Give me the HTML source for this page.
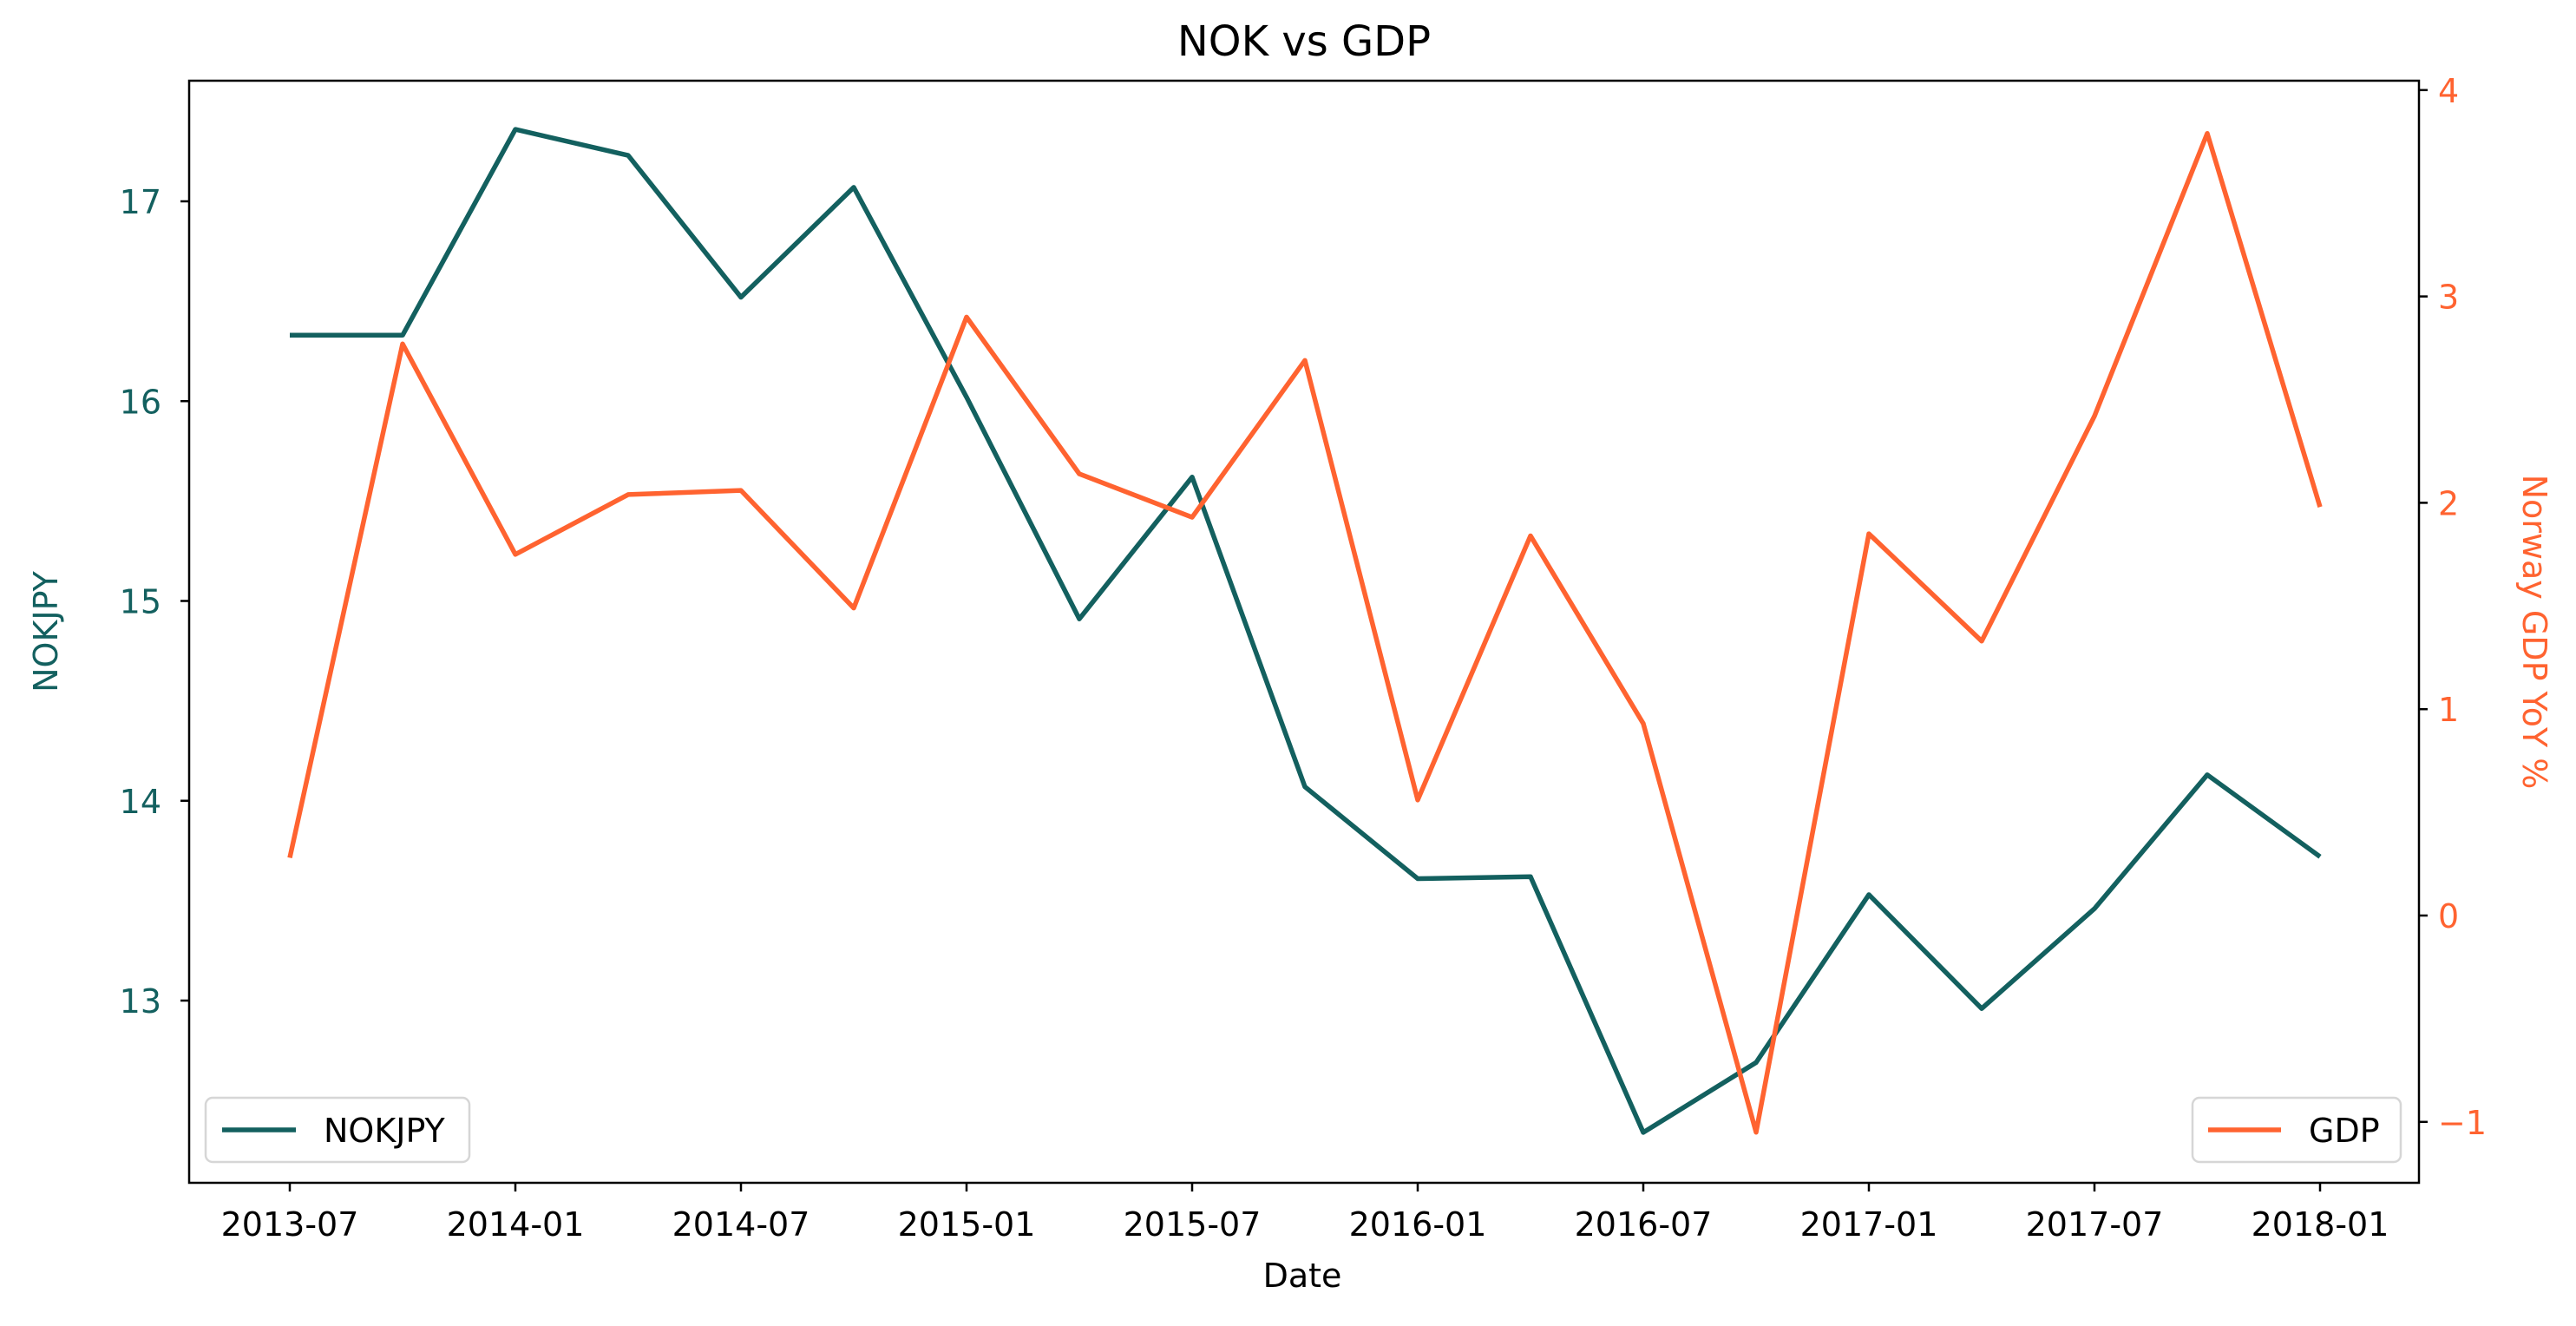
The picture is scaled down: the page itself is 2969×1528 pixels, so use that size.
<!DOCTYPE html>
<html><head><meta charset="utf-8"><style>
html,body{margin:0;padding:0;background:#fff;}
svg text{font-family:"DejaVu Sans","Liberation Sans",sans-serif;}
</style></head><body>
<svg id="chart" width="2969" height="1523" xmlns="http://www.w3.org/2000/svg">
<rect width="2969" height="1523" fill="#fff"/>
<g id="g"></g>
</svg>
<script>
const dates = ["2013-07","2013-10","2014-01","2014-04","2014-07","2014-10","2015-01","2015-04","2015-07","2015-10","2016-01","2016-04","2016-07","2016-10","2017-01","2017-04","2017-07","2017-10","2018-01"];
const nokjpy = [16.33,16.33,17.36,17.23,16.52,17.07,16.02,14.91,15.62,14.07,13.61,13.62,12.34,12.69,13.53,12.96,13.46,14.13,13.72];
const gdp = [0.28,2.77,1.75,2.04,2.06,1.49,2.90,2.14,1.93,2.69,0.56,1.84,0.93,-1.05,1.85,1.33,2.42,3.79,1.98];
const xTicks = ["2013-07","2014-01","2014-07","2015-01","2015-07","2016-01","2016-07","2017-01","2017-07","2018-01"];
const yLeftTicks = [13,14,15,16,17];
const yRightTicks = [-1,0,1,2,3,4];

const TEAL="#13605f", ORANGE="#ff6330";
const L=218,R=2788,T=93,B=1363;
function monthIndex(s){const [y,m]=s.split("-").map(Number);return y*12+(m-1);}
const m0=monthIndex("2013-07");
function xS(s){return 334+(monthIndex(s)-m0)*(260/6);}
function yL(v){return 232+(17-v)*230.25;}
function yR(v){return 1055-v*237.8;}
const g=document.getElementById('g');
const NS="http://www.w3.org/2000/svg";
function el(tag,attrs,parent){const e=document.createElementNS(NS,tag);for(const k in attrs)e.setAttribute(k,attrs[k]);(parent||g).appendChild(e);return e;}
function txt(s,attrs){const e=el('text',attrs);e.textContent=s;return e;}

let p=el('polyline',{points:dates.map((d,i)=>xS(d)+","+yL(nokjpy[i])).join(" "),fill:"none",stroke:TEAL,"stroke-width":5.5,"stroke-linejoin":"round"});


p=el('polyline',{points:dates.map((d,i)=>xS(d)+","+yR(gdp[i])).join(" "),fill:"none",stroke:ORANGE,"stroke-width":5.5,"stroke-linejoin":"round"});



let f=el('rect',{x:L,y:T,width:R-L,height:B-T,fill:"none",stroke:"#000","stroke-width":2.5});



xTicks.forEach(t=>{const x=xS(t);
 el('line',{x1:x,y1:B,x2:x,y2:B+10,stroke:"#000","stroke-width":2.5});
 const e=txt(t,{x:x,y:B+61,"text-anchor":"middle","font-size":38,fill:"#000"});
 
 
});
yLeftTicks.forEach(v=>{const y=yL(v);
 el('line',{x1:L-10,y1:y,x2:L,y2:y,stroke:"#000","stroke-width":2.5});
 const e=txt(String(v),{x:L-32,y:y+14,"text-anchor":"end","font-size":38,fill:TEAL});
 
 
});
yRightTicks.forEach(v=>{const y=yR(v);
 el('line',{x1:R,y1:y,x2:R+10,y2:y,stroke:"#000","stroke-width":2.5});
 const e=txt(v<0?"\u2212"+Math.abs(v):String(v),{x:R+22,y:y+14,"text-anchor":"start","font-size":38,fill:ORANGE});
 
 
});

let e=txt("NOK vs GDP",{x:(L+R)/2,y:64,"text-anchor":"middle","font-size":48,fill:"#000"});


e=txt("Date",{x:1501,y:1483,"text-anchor":"middle","font-size":38,fill:"#000"});


e=txt("NOKJPY",{x:0,y:0,"text-anchor":"middle","font-size":38,fill:TEAL,transform:"translate(66,728) rotate(-90)"});


e=txt("Norway GDP YoY %",{x:0,y:0,"text-anchor":"middle","font-size":38,fill:ORANGE,transform:"translate(2908,728) rotate(90)"});



let lg=el('rect',{x:237,y:1265,width:304,height:74,rx:8,fill:"#fff","fill-opacity":0.8,stroke:"#d6d6d6","stroke-width":2.5});


el('line',{x1:256,y1:1302,x2:341,y2:1302,stroke:TEAL,"stroke-width":5.5});
e=txt("NOKJPY",{x:373,y:1316,"font-size":38,fill:"#000"});


lg=el('rect',{x:2527,y:1265,width:240,height:74,rx:8,fill:"#fff","fill-opacity":0.8,stroke:"#d6d6d6","stroke-width":2.5});


el('line',{x1:2545,y1:1302,x2:2629,y2:1302,stroke:ORANGE,"stroke-width":5.5});
e=txt("GDP",{x:2661,y:1316,"font-size":38,fill:"#000"});


</script>
</body></html>
